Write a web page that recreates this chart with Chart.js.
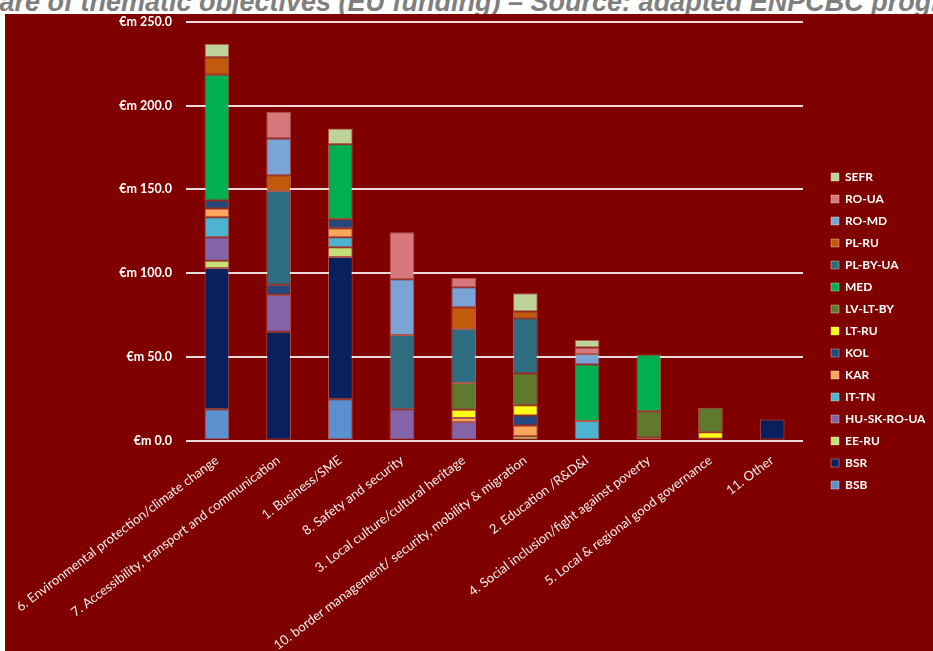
<!DOCTYPE html>
<html>
<head>
<meta charset="utf-8">
<title>Thematic objectives</title>
<script src="https://cdn.jsdelivr.net/npm/chart.js@4.4.1/dist/chart.umd.min.js"></script>
<style>
    html, body { margin: 0; padding: 0; background: #fff; overflow: hidden; }
    #title {
        position: absolute; left: -35px; top: -11px; white-space: nowrap;
        font: italic bold 27px "Liberation Sans", Arial, sans-serif;
        line-height: 27px; color: #7f7f7f;
    }
    #chart { position: absolute; left: 5px; top: 14px; background: #800000; }
</style>
</head>
<body>
<div id="title">Share of thematic objectives (EU funding) – Source: adapted ENPCBC programmes</div>
<canvas id="chart" width="928" height="637"></canvas>
<script>
    // categories (x axis)
    var categories = [
        "6. Environmental protection/climate change",
        "7. Accessibility, transport and communication",
        "1. Business/SME",
        "8. Safety and security",
        "3. Local culture/cultural heritage",
        "10. border management/ security, mobility & migration",
        "2. Education /R&D&I",
        "4. Social inclusion/fight against poverty",
        "5. Local & regional good governance",
        "11. Other"
    ];

    // EU funding per programme, €m, one value per category
    var BSB         = [18.6, 0, 24.6, 0, 0, 0, 0, 0, 0, 0];
    var BSR         = [84.4, 65, 85, 0, 0, 0, 0, 0, 0, 12.6];
    var EE_RU       = [4.4, 0, 5.8, 0, 0, 2.6, 0, 0, 1, 0];
    var HU_SK_RO_UA = [14, 22, 0, 18.6, 11, 0, 0, 0, 0, 0];
    var IT_TN       = [12, 0, 6, 0, 0, 0, 11.6, 0, 0, 0];
    var KAR         = [5.2, 0, 5.4, 0, 2.4, 6.4, 0, 0, 0, 0];
    var KOL         = [4.8, 6, 5.4, 0, 0, 6, 0, 0, 0, 0];
    var LT_RU       = [0, 0, 0, 0, 5, 6, 0, 1.6, 4, 0];
    var LV_LT_BY    = [0, 0, 0, 0, 16, 19, 0, 15.8, 14.6, 0];
    var MED         = [75.1, 0, 44.8, 0, 0, 0, 33.8, 34, 0, 0];
    var PL_BY_UA    = [0, 56, 0, 44.4, 32.2, 33, 0, 0, 0, 0];
    var PL_RU       = [10.5, 9.4, 0, 0, 13, 4, 0, 0, 0, 0];
    var RO_MD       = [0, 22, 0, 33.4, 12, 0, 6.2, 0, 0, 0];
    var RO_UA       = [0, 16, 0, 28, 5.6, 0, 4, 0, 0, 0];
    var SEFR        = [8, 0, 9.4, 0, 0, 11, 4.4, 0, 0, 0];

    // y axis tick values
    var yTicks = [0, 50, 100, 150, 200, 250];

    // series names and colours, stacked bottom -> top
    var series = [
        ["BSB", BSB, "#5b8fd0"],
        ["BSR", BSR, "#0a1f5e"],
        ["EE-RU", EE_RU, "#c6df78"],
        ["HU-SK-RO-UA", HU_SK_RO_UA, "#8464a8"],
        ["IT-TN", IT_TN, "#4cb3d2"],
        ["KAR", KAR, "#f9a55a"],
        ["KOL", KOL, "#25497e"],
        ["LT-RU", LT_RU, "#ffff1a"],
        ["LV-LT-BY", LV_LT_BY, "#5f7a2e"],
        ["MED", MED, "#00b050"],
        ["PL-BY-UA", PL_BY_UA, "#2e6d80"],
        ["PL-RU", PL_RU, "#c25a0e"],
        ["RO-MD", RO_MD, "#7aa3d6"],
        ["RO-UA", RO_UA, "#d6787c"],
        ["SEFR", SEFR, "#bed399"]
    ];

    var datasets = series.map(function (s) {
        return {
            label: s[0],
            data: s[1],
            backgroundColor: s[2],
            borderColor: "rgba(255,255,220,0.35)",
            borderWidth: 1,
            borderSkipped: false,
            barPercentage: 0.8,
            categoryPercentage: 0.5
        };
    });

    // place the legend where the original has it (right of the plot, lower half)
    var legendPlace = {
        id: "legendPlace",
        beforeLayout: function (chart) {
            var lg = chart.legend;
            if (lg && !lg._patched) {
                var fit = lg.fit;
                lg.fit = function () {
                    fit.call(this);
                    this.width = 130;
                };
                lg._patched = true;
            }
        },
        afterLayout: function (chart) {
            var lg = chart.legend;
            var pad = lg.options.labels.padding;
            var dx = 826 - (lg.left + pad);
            lg.left += dx;
            lg.right += dx;
            var colH = lg.columnSizes[0].height;
            var curY = (lg.top + pad + lg.bottom - colH) / 2;
            var dy = 157 - curY;
            lg.top += dy;
            lg.bottom += dy;
        }
    };

    new Chart(document.getElementById("chart").getContext("2d"), {
        type: "bar",
        data: { labels: categories, datasets: datasets },
        plugins: [legendPlace],
        options: {
            responsive: false,
            animation: false,
            layout: { padding: 0 },
            plugins: {
                legend: {
                    position: "right",
                    reverse: true,
                    labels: {
                        color: "#ffffff",
                        boxWidth: 8,
                        boxHeight: 8,
                        padding: 10,
                        font: { family: "Lato", size: 12, weight: "bold" }
                    }
                },
                tooltip: { enabled: false }
            },
            scales: {
                x: {
                    stacked: true,
                    grid: { display: false },
                    border: { display: false },
                    ticks: {
                        color: "#f4f0f0",
                        autoSkip: false,
                        minRotation: 37,
                        maxRotation: 37,
                        padding: 4,
                        font: { family: "Lato", size: 13 }
                    },
                    afterFit: function (s) { s.height = 210.5; }
                },
                y: {
                    stacked: true,
                    min: 0,
                    max: 250,
                    afterBuildTicks: function (s) {
                        s.ticks = yTicks.map(function (v) { return { value: v }; });
                    },
                    ticks: {
                        color: "#ffffff",
                        padding: 14,
                        font: { family: "Lato", size: 12.5, weight: "bold" },
                        callback: function (v) { return "€m " + Number(v).toFixed(1); }
                    },
                    grid: { color: "#ecd8d8", lineWidth: 2, drawTicks: false },
                    border: { display: false },
                    afterFit: function (s) {
                        s.width = 179;
                        s.paddingTop = 8;
                        s.paddingBottom = 0;
                    }
                }
            }
        }
    });
</script>
</body>
</html>
